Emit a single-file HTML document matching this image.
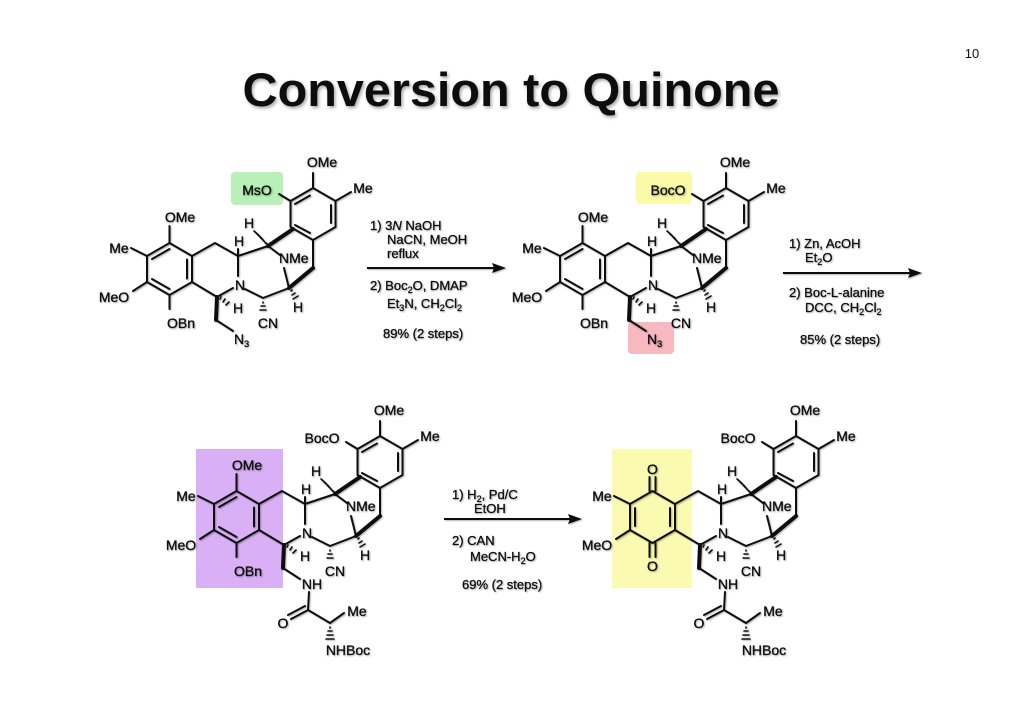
<!DOCTYPE html>
<html><head><meta charset="utf-8"><style>
html,body{margin:0;padding:0;background:#fff;}
svg{display:block;}
text{font-family:"Liberation Sans",Arial,sans-serif;fill:#111;}
.l{font-size:14px;stroke:#111;stroke-width:0.35;}
.r{font-size:13px;stroke:#111;stroke-width:0.3;}
</style></head><body>
<svg width="1024" height="724" viewBox="0 0 1024 724" xmlns="http://www.w3.org/2000/svg">
<defs>
<filter id="sh" x="-5%" y="-20%" width="110%" height="150%"><feDropShadow dx="1.5" dy="2" stdDeviation="1.5" flood-color="#000" flood-opacity="0.35"/></filter>
<filter id="sh2" x="-5%" y="-20%" width="110%" height="150%"><feDropShadow dx="1" dy="1" stdDeviation="0.8" flood-color="#000" flood-opacity="0.3"/></filter>
<g id="core" stroke="#111" stroke-width="2" fill="none" stroke-linecap="round" stroke-linejoin="round">
  <path d="M169.5,243 L192,256 L192,282 L169.5,295 L147,282 L147,256 Z"/>
  <path d="M147,256 L131,248 M147,282 L133,291"/>
  <path d="M192,256 L215,243 L238,256 L238,276 M233,288 L217,297 L192,282"/>
  <path d="M238,256 L268,246 L280,255 M284,268 L289,288 M245,289 L263,298 L289,288"/>
  <path d="M313,188 L335.5,201 L335.5,227 L313,240 L290.5,227 L290.5,201 Z"/>
  <path d="M295,204 L310,195.5 M331,205 L331,223 M310,233 L295,225"/>
  <path d="M313,188 L313,173 M290.5,201 L279,194 M335.5,201 L351,192"/>
  <path d="M313,240 L313,268"/>
  <path d="M238,256 L238,249"/>
  <path d="M268,246 L293,229" stroke-width="4"/>
  <path d="M289,288 L313,268" stroke-width="4"/>
  <path d="M217,297 L216,320" stroke-width="4"/>
  <path d="M266,243 L268,245 M263,240 L266,243.5 M260,237 L264,241 M257,234 L262,238.5 M254,231 L259,235.5" stroke-width="1.6"/>
  <path d="M263,302 L263,303 M261,306 L265,306 M260,310 L266,310" stroke-width="1.6"/>
  <path d="M291,291 L292,290 M292,295 L295,293 M293,299 L298,296" stroke-width="1.6"/>
  <path d="M220,299 L221,297 M223,302 L225,299 M226,305 L229,302" stroke-width="1.6"/>
  <path d="M216,320 L233,331"/>
</g>
<g id="Aaro" stroke="#111" stroke-width="2" fill="none" stroke-linecap="round">
  <path d="M169.5,249 L152,259 M187,259.5 L187,278.5 M152,279 L169.5,289"/>
  <path d="M169.5,243 L169.5,226 M169.5,295 L169.5,309"/>
</g>
<g id="amide" stroke="#111" stroke-width="2" fill="none" stroke-linecap="round">
  <path d="M242,344 L241,362 L263,375 L277,365"/>
  <path d="M241,362 L224,371 M238,358 L221,367"/>
  <path d="M263,379 L263,380 M261,383 L265,383 M260,387 L266,387 M259,391 L267,391" stroke-width="1.6"/>
</g>
</defs>

<text x="511" y="106" text-anchor="middle" font-size="47" font-weight="bold" textLength="537" lengthAdjust="spacingAndGlyphs" filter="url(#sh)">Conversion to Quinone</text>
<text x="972" y="58" font-size="13" text-anchor="middle">10</text>

<rect x="231" y="172" width="52" height="33" rx="4" fill="#b8f0b8"/>
<rect x="636" y="172" width="56" height="32" rx="4" fill="#fafaa8"/>
<rect x="628" y="322" width="46" height="32" rx="4" fill="#f7b8c0"/>
<rect x="196" y="449" width="87" height="139" fill="#d9b0f5"/>
<rect x="612" y="449" width="80" height="139" fill="#fafab0"/>

<g filter="url(#sh2)">
<use href="#core"/><use href="#Aaro"/>
<g class="l">
<text x="180" y="222" text-anchor="middle">OMe</text>
<text x="119" y="253" text-anchor="middle">Me</text>
<text x="114" y="302" text-anchor="middle">MeO</text>
<text x="181" y="328" text-anchor="middle">OBn</text>
<text x="257" y="195" text-anchor="middle">MsO</text>
<text x="322" y="167" text-anchor="middle">OMe</text>
<text x="363" y="193" text-anchor="middle">Me</text>
<text x="239" y="246" text-anchor="middle">H</text>
<text x="249" y="228" text-anchor="middle">H</text>
<text x="240" y="290" text-anchor="middle">N</text>
<text x="279" y="263">NMe</text>
<text x="238" y="313" text-anchor="middle">H</text>
<text x="298" y="312" text-anchor="middle">H</text>
<text x="268" y="328" text-anchor="middle">CN</text>
<text x="234" y="344">N<tspan font-size="9" dy="3">3</tspan></text>
</g>

<g transform="translate(413,0)">
<use href="#core"/><use href="#Aaro"/>
<g class="l">
<text x="180" y="222" text-anchor="middle">OMe</text>
<text x="119" y="253" text-anchor="middle">Me</text>
<text x="114" y="302" text-anchor="middle">MeO</text>
<text x="181" y="328" text-anchor="middle">OBn</text>
<text x="255" y="195" text-anchor="middle">BocO</text>
<text x="322" y="167" text-anchor="middle">OMe</text>
<text x="363" y="193" text-anchor="middle">Me</text>
<text x="239" y="246" text-anchor="middle">H</text>
<text x="249" y="228" text-anchor="middle">H</text>
<text x="240" y="290" text-anchor="middle">N</text>
<text x="279" y="263">NMe</text>
<text x="238" y="313" text-anchor="middle">H</text>
<text x="298" y="312" text-anchor="middle">H</text>
<text x="268" y="328" text-anchor="middle">CN</text>
<text x="234" y="344">N<tspan font-size="9" dy="3">3</tspan></text>
</g></g>

<g transform="translate(67,248)">
<use href="#core"/><use href="#Aaro"/><use href="#amide"/>
<g class="l">
<text x="180" y="222" text-anchor="middle">OMe</text>
<text x="119" y="253" text-anchor="middle">Me</text>
<text x="114" y="302" text-anchor="middle">MeO</text>
<text x="181" y="328" text-anchor="middle">OBn</text>
<text x="255" y="195" text-anchor="middle">BocO</text>
<text x="322" y="167" text-anchor="middle">OMe</text>
<text x="363" y="193" text-anchor="middle">Me</text>
<text x="239" y="246" text-anchor="middle">H</text>
<text x="249" y="228" text-anchor="middle">H</text>
<text x="240" y="290" text-anchor="middle">N</text>
<text x="279" y="263">NMe</text>
<text x="238" y="313" text-anchor="middle">H</text>
<text x="298" y="312" text-anchor="middle">H</text>
<text x="268" y="328" text-anchor="middle">CN</text>
<text x="245" y="341" text-anchor="middle">NH</text>
<text x="216" y="380" text-anchor="middle">O</text>
<text x="290" y="368" text-anchor="middle">Me</text>
<text x="281" y="407" text-anchor="middle">NHBoc</text>
</g></g>

<g transform="translate(483,248)">
<use href="#core"/><use href="#amide"/>
<g stroke="#111" stroke-width="2" fill="none" stroke-linecap="round">
  <path d="M152,260 L152,278 M187,260 L187,278"/>
  <path d="M166.5,243 L166.5,229 M172.5,243 L172.5,229 M166.5,295 L166.5,309 M172.5,295 L172.5,309"/>
</g>
<g class="l">
<text x="169.5" y="226" text-anchor="middle">O</text>
<text x="119" y="253" text-anchor="middle">Me</text>
<text x="114" y="302" text-anchor="middle">MeO</text>
<text x="169.5" y="323" text-anchor="middle">O</text>
<text x="255" y="195" text-anchor="middle">BocO</text>
<text x="322" y="167" text-anchor="middle">OMe</text>
<text x="363" y="193" text-anchor="middle">Me</text>
<text x="239" y="246" text-anchor="middle">H</text>
<text x="249" y="228" text-anchor="middle">H</text>
<text x="240" y="290" text-anchor="middle">N</text>
<text x="279" y="263">NMe</text>
<text x="238" y="313" text-anchor="middle">H</text>
<text x="298" y="312" text-anchor="middle">H</text>
<text x="268" y="328" text-anchor="middle">CN</text>
<text x="245" y="341" text-anchor="middle">NH</text>
<text x="216" y="380" text-anchor="middle">O</text>
<text x="290" y="368" text-anchor="middle">Me</text>
<text x="281" y="407" text-anchor="middle">NHBoc</text>
</g></g>

<g stroke="#111" stroke-width="2">
<line x1="367" y1="268" x2="494" y2="268"/>
<line x1="783" y1="273" x2="910" y2="273"/>
<line x1="444" y1="519" x2="570" y2="519"/>
</g>
<g fill="#111">
<path d="M506,268 L492,263 L494,268 L492,273 Z"/>
<path d="M922,273 L908,268 L910,273 L908,278 Z"/>
<path d="M582,519 L568,514 L570,519 L568,524 Z"/>
</g>

<g class="r">
<text x="370" y="230">1) 3<tspan font-style="italic">N</tspan> NaOH</text>
<text x="387" y="244">NaCN, MeOH</text>
<text x="387" y="258">reflux</text>
<text x="370" y="290">2) Boc<tspan font-size="9" dy="3">2</tspan><tspan dy="-3">O, DMAP</tspan></text>
<text x="387" y="308">Et<tspan font-size="9" dy="3">3</tspan><tspan dy="-3">N, CH</tspan><tspan font-size="9" dy="3">2</tspan><tspan dy="-3">Cl</tspan><tspan font-size="9" dy="3">2</tspan></text>
<text x="383" y="338">89% (2 steps)</text>

<text x="789" y="248">1) Zn, AcOH</text>
<text x="805" y="262">Et<tspan font-size="9" dy="3">2</tspan><tspan dy="-3">O</tspan></text>
<text x="789" y="297">2) Boc-L-alanine</text>
<text x="805" y="312">DCC, CH<tspan font-size="9" dy="3">2</tspan><tspan dy="-3">Cl</tspan><tspan font-size="9" dy="3">2</tspan></text>
<text x="800" y="344">85% (2 steps)</text>

<text x="452" y="499">1) H<tspan font-size="9" dy="3">2</tspan><tspan dy="-3">, Pd/C</tspan></text>
<text x="474" y="513">EtOH</text>
<text x="452" y="545">2) CAN</text>
<text x="470" y="561">MeCN-H<tspan font-size="9" dy="3">2</tspan><tspan dy="-3">O</tspan></text>
<text x="462" y="589">69% (2 steps)</text>
</g>
</g>
</svg>
</body></html>
